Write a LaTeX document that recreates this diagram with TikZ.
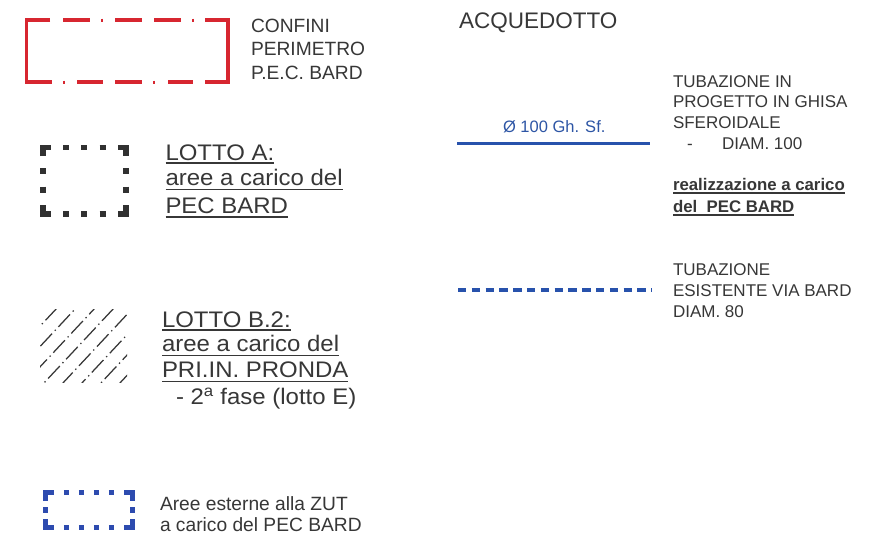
\documentclass[tikz,border=0pt]{standalone}
\usepackage{fontspec}
\setmainfont{Liberation Sans}
\newfontfamily\widefont[FakeStretch=1.065]{Liberation Sans}
\definecolor{txt}{RGB}{55,55,55}
\definecolor{redl}{RGB}{215,38,48}
\definecolor{bluel}{RGB}{40,82,172}
\definecolor{blued}{RGB}{45,75,175}
\definecolor{bluet}{RGB}{45,85,165}
\newcommand\ulbox[2][4]{\setbox0\hbox{#2}\rlap{\rule[-#1pt]{\wd0}{1.1pt}}\box0}
\tikzset{
  lbl/.style={anchor=base west, inner sep=0pt, outer sep=0pt, text=txt},
  fbig/.style={font=\widefont\fontsize{22.5}{26}\selectfont},
  facq/.style={font=\fontsize{22.5}{26}\selectfont},
  fmid/.style={font=\fontsize{19.2}{22}\selectfont},
  fsm/.style={font=\fontsize{17}{20}\selectfont},
  redseg/.style={draw=redl, line width=3.2pt, line cap=butt, line join=miter},
  reddot/.style={draw=redl, line width=1.1pt},
  blkdot/.style={draw=txt!90!black, line width=5.5pt, line cap=butt, line join=miter},
  bludot/.style={draw=blued, line width=5.5pt, line cap=butt, line join=miter},
  hatchln/.style={draw=txt, line width=1.25pt, dash pattern=on 17pt off 4pt on 1.3pt off 4pt},
}
\begin{document}
\begin{tikzpicture}[x=1pt,y=-1pt]
\useasboundingbox[fill=white] (0,0) rectangle (890,552);

% ---------- red perimeter box ----------
\draw[redseg] (50,20)--(26.7,20)--(26.7,82)--(52,82);
\draw[redseg] (205,20)--(228,20)--(228,82)--(205,82);
\draw[redseg] (63,20)--(90,20) (115,20)--(142,20) (154,20)--(181,20);
\draw[redseg] (77,82)--(103,82) (115,82)--(142,82) (168,82)--(193,82);
\draw[reddot] (102,18.5)--(102,21.5) (193,18.5)--(193,21.5) (64,80.5)--(64,83.5) (154,80.5)--(154,83.5);

\node[lbl,fmid] (confini) at (251,32) {CONFINI};
\node[lbl,fmid] (perimetro) at (251,55.5) {PERIMETRO};
\node[lbl,fmid] (pec) at (251,79.5) {P.E.C. BARD};

% ---------- black dotted box (Lotto A) ----------
\draw[blkdot] (43,156)--(43,147.5)--(51,147.5);
\draw[blkdot] (118,147.5)--(126,147.5)--(126,156);
\draw[blkdot] (43,205)--(43,214)--(51,214);
\draw[blkdot] (118,214)--(126,214)--(126,205);
\foreach \x in {66,84,102.5}{
  \draw[blkdot] (\x-3,147.5)--(\x+3,147.5);
  \draw[blkdot] (\x-3,214)--(\x+3,214);
}
\foreach \y in {171,189.5}{
  \draw[blkdot] (43,\y-3)--(43,\y+3);
  \draw[blkdot] (126,\y-3)--(126,\y+3);
}

\node[lbl,fbig] (la1) at (165.5,160) {\ulbox[3.5]{LOTTO A:}};
\node[lbl,fbig] (la2) at (165.5,185.5) {\ulbox[4.5]{aree a carico del}};
\node[lbl,fbig] (la3) at (165.5,213) {\ulbox[4.5]{PEC BARD}};

% ---------- hatch (Lotto B.2) ----------
\begin{scope}
\clip (40,309) rectangle (127,382);
\foreach \i in {0,...,9}{
  \draw[hatchln, dash phase=\i*9pt] (-52+\i*19,384)--(-52+\i*19+100,277);
}
\end{scope}

\node[lbl,fbig] (lb1) at (162,327) {\ulbox[3.5]{LOTTO B.2:}};
\node[lbl,fbig] (lb2) at (162,351.5) {\ulbox[4.5]{aree a carico del}};
\node[lbl,fbig] (lb3) at (162,377) {\ulbox[5]{PRI.IN. PRONDA}};
\node[lbl,fbig] (lb4) at (176,404) {- 2\textsuperscript{a} fase (lotto E)};

% ---------- blue dotted box ----------
\draw[bludot] (45.5,501)--(45.5,492.5)--(54,492.5);
\draw[bludot] (124,492.5)--(132.5,492.5)--(132.5,501);
\draw[bludot] (45.5,519)--(45.5,527.5)--(54,527.5);
\draw[bludot] (124,527.5)--(132.5,527.5)--(132.5,519);
\foreach \x in {66.5,81.5,96.5,111.5}{
  \draw[bludot] (\x-2.75,492.5)--(\x+2.75,492.5);
  \draw[bludot] (\x-2.75,527.5)--(\x+2.75,527.5);
}
\draw[bludot] (45.5,507.2)--(45.5,512.8);
\draw[bludot] (132.5,507.2)--(132.5,512.8);

\node[lbl,fmid] (ae1) at (160,510) {Aree esterne alla ZUT};
\node[lbl,fmid] (ae2) at (160,531) {a carico del PEC BARD};

% ---------- right column ----------
\node[lbl,facq] (acq) at (459,28) {ACQUEDOTTO};

\node[lbl,font=\fontsize{16.5}{19}\selectfont,text=bluet] (diam) at (503,132.5) {Ø 100 Gh. Sf.};
\coordinate (s1) at (457,143);
\coordinate (s2) at (650,143);
\draw[draw=bluel, line width=3pt] (s1)--(s2);

\node[lbl,fsm] (t1) at (673,87) {TUBAZIONE IN};
\node[lbl,fsm] (t2) at (673,107.5) {PROGETTO IN GHISA};
\node[lbl,fsm] (t3) at (673,128) {SFEROIDALE};
\node[lbl,fsm] (t4a) at (687,149) {-};
\node[lbl,fsm] (t4b) at (722,149) {DIAM. 100};

\node[lbl,font=\bfseries\fontsize{16.8}{20}\selectfont] (r1) at (673,190) {\ulbox[3.5]{realizzazione a carico}};
\node[lbl,font=\bfseries\fontsize{16.8}{20}\selectfont] (r2) at (673,212) {\ulbox[3.5]{del\ \ PEC BARD}};

\coordinate (d1) at (458,290);
\coordinate (d2) at (652,290);
\draw[draw=bluel, line width=4pt, dash pattern=on 8.3pt off 5.5pt] (d1)--(d2);

\node[lbl,fsm] (e1) at (673,275) {TUBAZIONE};
\node[lbl,fsm] (e2) at (673,296) {ESISTENTE VIA BARD};
\node[lbl,fsm] (e3) at (673,317) {DIAM. 80};
\end{tikzpicture}
\end{document}
